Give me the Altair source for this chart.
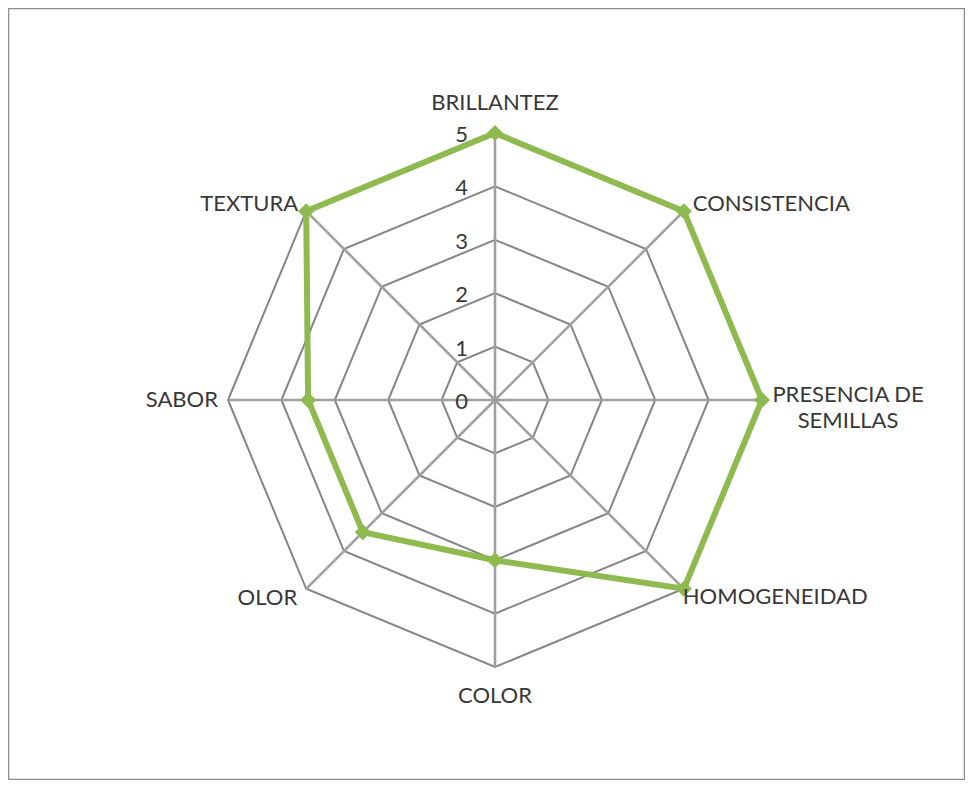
import math
import altair as alt
import pandas as pd

# ---- data ----
categories = ["BRILLANTEZ", "CONSISTENCIA", "PRESENCIA DE\nSEMILLAS", "HOMOGENEIDAD",
              "COLOR", "OLOR", "SABOR", "TEXTURA"]
values = [5, 5, 5, 5, 3, 3.5, 3.5, 5]
tick_levels = [0, 1, 2, 3, 4, 5]
max_level = 5

# ---- layout ----
W, H = 957, 772
CX, CY = 487, 392
PXU = 53.4
x_dom = [-CX / PXU, (W - CX) / PXU]
y_dom = [-(H - CY) / PXU, CY / PXU]

n = len(categories)
angles = [2 * math.pi * i / n for i in range(n)]


def pol(r, a):
    return r * math.sin(a), r * math.cos(a)


# series
ser_rows = []
for k in range(n + 1):
    i = k % n
    x, y = pol(values[i], angles[i])
    ser_rows.append({"idx": k, "x": x, "y": y, "cat": categories[i], "value": values[i]})
ser = pd.DataFrame(ser_rows)

# rings
ring_rows = []
for lv in tick_levels[1:]:
    for k in range(n + 1):
        x, y = pol(lv, angles[k % n])
        ring_rows.append({"level": lv, "idx": k, "x": x, "y": y})
rings = pd.DataFrame(ring_rows)

# spokes
spk = []
for i in range(n):
    x2, y2 = pol(max_level, angles[i])
    spk.append({"x": 0.0, "y": 0.0, "x2": x2, "y2": y2})
spokes = pd.DataFrame(spk)

# tick labels
ticks = pd.DataFrame({"x": [0.0] * len(tick_levels), "y": tick_levels,
                      "t": [str(v) for v in tick_levels]})

# category labels
lab_rows = []
for i in range(n):
    x, y = pol(max_level, angles[i])
    hs, vc = math.sin(angles[i]), math.cos(angles[i])
    h = "r" if hs > 0.1 else ("l" if hs < -0.1 else "c")
    v = "u" if vc > 0.1 else ("d" if vc < -0.1 else "m")
    lab_rows.append({"x": x, "y": y, "label": categories[i], "grp": h + v})
labs = pd.DataFrame(lab_rows)

FONT = "Lato"
FS = 22
TXT = "#383838"
GREEN = "#8fba4f"

xs = alt.Scale(domain=x_dom, nice=False, zero=False)
ys = alt.Scale(domain=y_dom, nice=False, zero=False)
X = alt.X("x:Q", scale=xs, axis=None)
Y = alt.Y("y:Q", scale=ys, axis=None)

ring_layer = alt.Chart(rings).mark_line(color="#858585", strokeWidth=2).encode(
    x=X, y=Y, detail="level:N", order="idx:Q")
spoke_layer = alt.Chart(spokes).mark_rule(color="#a0a0a0", strokeWidth=2.6).encode(
    x=X, y=Y, x2="x2:Q", y2="y2:Q")
tick_layer = alt.Chart(ticks).mark_text(
    align="right", baseline="middle", dx=-27, dy=2, font=FONT, fontSize=FS, color=TXT
).encode(x=X, y=Y, text="t:N")
line_layer = alt.Chart(ser).mark_line(color=GREEN, strokeWidth=6, strokeJoin="miter").encode(
    x=X, y=Y, order="idx:Q")
pt_layer = alt.Chart(ser[ser["idx"] < n]).mark_point(
    shape="diamond", filled=True, size=260, color=GREEN, opacity=1).encode(x=X, y=Y)

grp_style = {
    "cu": dict(align="center", dx=0, dy=-30),
    "cd": dict(align="center", dx=0, dy=29),
    "ru": dict(align="left", dx=9, dy=-7),
    "rm": dict(align="center", dx=86, dy=-5),
    "rd": dict(align="left", dx=-1, dy=8),
    "lu": dict(align="right", dx=-8, dy=-7),
    "lm": dict(align="right", dx=-10, dy=0),
    "ld": dict(align="right", dx=-9, dy=9),
}
label_layers = []
for g, st in grp_style.items():
    label_layers.append(
        alt.Chart(labs).transform_filter(alt.datum.grp == g).mark_text(
            baseline="middle", font=FONT, fontSize=FS, color=TXT, lineBreak="\n",
            lineHeight=26, **st
        ).encode(x=X, y=Y, text="label:N")
    )

chart = alt.layer(ring_layer, spoke_layer, tick_layer, line_layer, pt_layer,
                  *label_layers).properties(
    width=W, height=H, padding=0, autosize=alt.AutoSizeParams(type="none"),
    background="white"
).configure_view(stroke="#8c8c8c", strokeWidth=2.5)

chart.save("out.html", embed_options={"renderer": "svg", "actions": False})
